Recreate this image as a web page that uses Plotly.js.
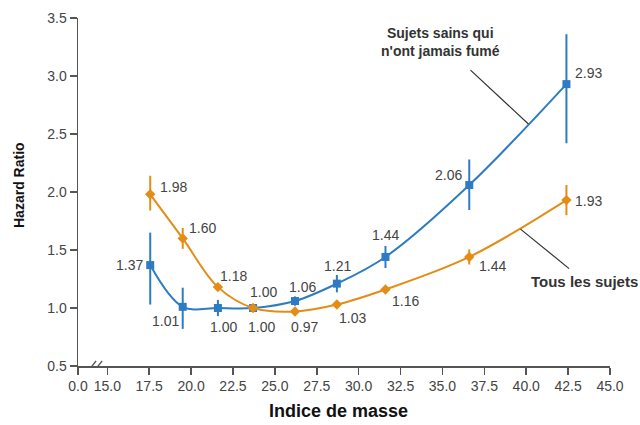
<!DOCTYPE html>
<html>
<head>
<meta charset="utf-8">
<script src="https://cdn.plot.ly/plotly-3.0.1.min.js"></script>
<style>html,body{margin:0;padding:0;background:#fff;}#chart{width:640px;height:425px;}</style>
</head>
<body>
<div id="chart"></div>
<script>
// ---- data ----
var bmi = [17.56, 19.5, 21.6, 23.7, 26.2, 28.7, 31.6, 36.6, 42.4];
var hrNonSmokers = [1.37, 1.01, 1.00, 1.00, 1.06, 1.21, 1.44, 2.06, 2.93];
var errUpNonSmokers = [0.28, 0.165, 0.07, 0, 0.04, 0.075, 0.095, 0.22, 0.43];
var errDownNonSmokers = [0.34, 0.19, 0.07, 0, 0.04, 0.075, 0.095, 0.215, 0.51];
var hrAll = [1.98, 1.60, 1.18, 1.00, 0.97, 1.03, 1.16, 1.44, 1.93];
var errUpAll = [0.16, 0.09, 0, 0, 0, 0, 0, 0.065, 0.13];
var errDownAll = [0.14, 0.09, 0, 0, 0, 0, 0, 0.065, 0.13];
var xTickVals = [13.25, 15, 17.5, 20, 22.5, 25, 27.5, 30, 32.5, 35, 37.5, 40, 42.5, 45];
var xTickText = ["0.0", "15.0", "17.5", "20.0", "22.5", "25.0", "27.5", "30.0", "32.5", "35.0", "37.5", "40.0", "42.5", "45.0"];
var yTickVals = [0.5, 1.0, 1.5, 2.0, 2.5, 3.0, 3.5];
var nameNonSmokers = "Sujets sains qui<br>n'ont jamais fumé";
var nameAll = "Tous les sujets";
var xTitle = "Indice de masse";
var yTitle = "Hazard Ratio";

// ---- styling (label offsets in px) ----
var blue = "#2d7cc3", orange = "#e38d16";
var offNon = [[-21,0],[-17,-14],[6,-19],[10,16],[8,14],[1,18],[0,22],[-21,10],[22,11]];
var offAll = [[23,7],[20,10],[16,11],[8,-19],[10,-16],[16,-13],[20,-12],[23,-9],[22,-1]];
var FAMILY = 'Liberation Sans, Arial, sans-serif';

var traces = [
  {x: bmi, y: hrNonSmokers, type: 'scatter', mode: 'lines+markers',
   line: {color: blue, width: 2, shape: 'spline', smoothing: 1},
   marker: {symbol: 'square', size: 8, color: blue},
   error_y: {type: 'data', symmetric: false, array: errUpNonSmokers, arrayminus: errDownNonSmokers,
             color: blue, thickness: 2, width: 0},
   showlegend: false},
  {x: bmi, y: hrAll, type: 'scatter', mode: 'lines+markers',
   line: {color: orange, width: 2, shape: 'spline', smoothing: 1},
   marker: {symbol: 'diamond', size: 8, color: orange},
   error_y: {type: 'data', symmetric: false, array: errUpAll, arrayminus: errDownAll,
             color: orange, thickness: 2, width: 0},
   showlegend: false}
];

var labelFont = {family: FAMILY, size: 14, color: '#444'};
var annotations = [];
bmi.forEach(function(x, i) {
  annotations.push({x: x, y: hrNonSmokers[i], xref: 'x', yref: 'y', text: hrNonSmokers[i].toFixed(2),
    showarrow: false, xshift: offNon[i][0], yshift: offNon[i][1], font: labelFont});
  annotations.push({x: x, y: hrAll[i], xref: 'x', yref: 'y', text: hrAll[i].toFixed(2),
    showarrow: false, xshift: offAll[i][0], yshift: offAll[i][1], font: labelFont});
});
annotations.push({x: 40.13, y: 2.586, xref: 'x', yref: 'y', text: '<b>' + nameNonSmokers + '</b>',
  showarrow: true, arrowhead: 0, arrowwidth: 1.2, arrowcolor: '#333', ax: -88, ay: -82,
  startstandoff: 14, font: {family: FAMILY, size: 14, color: '#333'}, align: 'center'});
annotations.push({x: 39.66, y: 1.68, xref: 'x', yref: 'y', text: '<b>' + nameAll + '</b>',
  showarrow: true, arrowhead: 0, arrowwidth: 1.2, arrowcolor: '#333', ax: 64, ay: 52,
  startstandoff: 4, font: {family: FAMILY, size: 15, color: '#333'}});
// axis titles placed as annotations for precise positioning
annotations.push({xref: 'paper', yref: 'paper', x: (338 - 78) / 532, y: (425 - 59 - 411) / 348,
  xanchor: 'center', yanchor: 'middle', showarrow: false, text: '<b>' + xTitle + '</b>',
  font: {family: FAMILY, size: 18, color: '#111'}});
annotations.push({xref: 'paper', yref: 'paper', x: (19 - 78) / 532, y: (425 - 59 - 185) / 348,
  xanchor: 'center', yanchor: 'middle', showarrow: false, textangle: -90, text: '<b>' + yTitle + '</b>',
  font: {family: FAMILY, size: 14, color: '#111'}});

var shapes = [
  {type: 'line', xref: 'x', yref: 'y', xsizemode: 'pixel', ysizemode: 'pixel',
   xanchor: 14.09, yanchor: 0.5, x0: -4, x1: 4, y0: -5, y1: 5, line: {color: '#555', width: 1.3}},
  {type: 'line', xref: 'x', yref: 'y', xsizemode: 'pixel', ysizemode: 'pixel',
   xanchor: 14.45, yanchor: 0.5, x0: -4, x1: 4, y0: -5, y1: 5, line: {color: '#555', width: 1.3}}
];

var tickFont = {family: FAMILY, size: 14, color: '#444'};
var layout = {
  width: 640, height: 425,
  margin: {l: 78, r: 30, t: 18, b: 59},
  paper_bgcolor: '#fff', plot_bgcolor: '#fff',
  xaxis: {range: [13.25, 45], tickmode: 'array', tickvals: xTickVals, ticktext: xTickText,
    showgrid: false, zeroline: false, showline: true, linecolor: '#555', linewidth: 1.5,
    ticks: 'outside', ticklen: 7, tickcolor: '#555', tickwidth: 1.5, tickfont: tickFont},
  yaxis: {range: [0.5, 3.5], tickmode: 'array', tickvals: yTickVals, tickformat: '.1f',
    showgrid: false, zeroline: false, showline: true, linecolor: '#555', linewidth: 1.5,
    ticks: 'outside', ticklen: 7, tickcolor: '#555', tickwidth: 1.5, tickfont: tickFont},
  annotations: annotations,
  shapes: shapes,
  showlegend: false
};
Plotly.newPlot('chart', traces, layout, {displayModeBar: false, staticPlot: true});
</script>
</body>
</html>
